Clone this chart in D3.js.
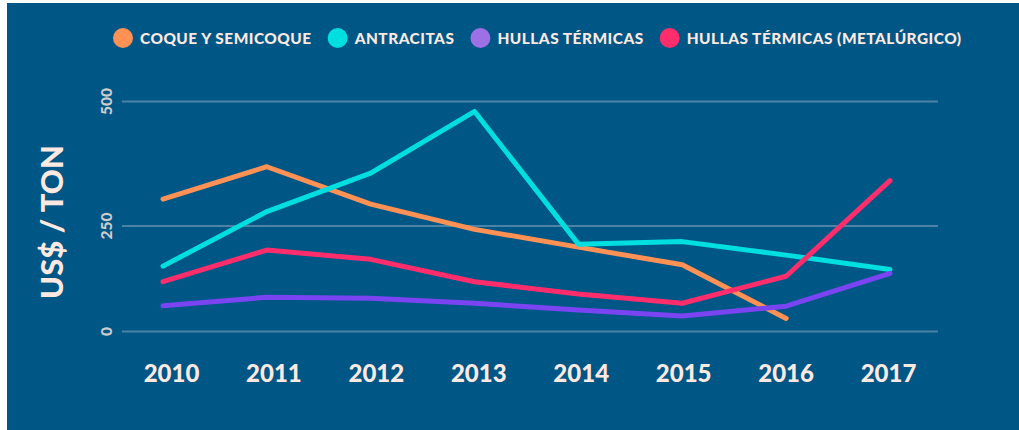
<!DOCTYPE html>
<html>
<head>
<meta charset="utf-8">
<script src="https://cdn.jsdelivr.net/npm/d3@7/dist/d3.min.js"></script>
<style>
  html, body { margin: 0; padding: 0; background: #ffffff; }
  svg { display: block; }
  text { font-family: Lato, "Open Sans", sans-serif; font-weight: 900; }
</style>
</head>
<body>
<svg id="chart" width="1019" height="430"></svg>
<script>
// Years on the x axis
const years = ["2010", "2011", "2012", "2013", "2014", "2015", "2016", "2017"];

// Prices in US$ per ton
const coque       = [304, 369, 294, 242, 200, 158, 31, null];
const antracitas  = [155, 279, 356, 480, 207, 213, 181, 147];
const hullas      = [61, 81, 79, 67, 51, 37, 60, 138];
const metalurgico = [118, 193, 171, 118, 89, 67, 131, 341];

// Series names and colours
const seriesNames   = ["COQUE Y SEMICOQUE", "ANTRACITAS", "HULLAS TÉRMICAS", "HULLAS TÉRMICAS (METALÚRGICO)"];
const seriesValues  = [coque, antracitas, hullas, metalurgico];
const lineColors    = ["#ff9155", "#00dfdf", "#7a44f2", "#ff2d6b"];
const legendColors  = ["#ff9155", "#00dfdf", "#9d70e6", "#ff2d6b"];

// Y axis ticks
const yTicks = [0, 250, 500];
const yTitle = "US$ / TON";

const svg = d3.select("#chart");
const W = 1019, H = 430;

// Panel background
svg.append("rect")
  .attr("x", 7).attr("y", 3)
  .attr("width", W - 7).attr("height", H - 3)
  .attr("fill", "#005685");

const gridX0 = 122, gridX1 = 938;

// Value scale (gridlines are unevenly spaced)
const y = d3.scaleLinear()
  .domain([0, 250, 500])
  .range([331.5, 226, 101.5]);

// Line positions and label positions
const x = d3.scalePoint().domain(years).range([163, 890]);
const xLabels = d3.scalePoint().domain(years).range([171, 888]);

// Gridlines
svg.append("g")
  .selectAll("line")
  .data(yTicks)
  .join("line")
  .attr("x1", gridX0).attr("x2", gridX1)
  .attr("y1", d => y(d)).attr("y2", d => y(d))
  .attr("stroke", "#4b83a6")
  .attr("stroke-width", 2);

// Y tick labels (rotated)
svg.append("g")
  .selectAll("text")
  .data(yTicks)
  .join("text")
  .attr("transform", d => `translate(111.5,${y(d)}) rotate(-90)`)
  .attr("text-anchor", "middle")
  .attr("font-size", 15.5)
  .attr("fill", "#cfcccc")
  .text(d => d);

// Y axis title
svg.append("text")
  .attr("transform", "translate(63,222) rotate(-90)")
  .attr("text-anchor", "middle")
  .attr("font-size", 31)
  .attr("fill", "#fde9e1")
  .text(yTitle);

// X axis labels
const xAxis = d3.axisBottom(xLabels).tickSize(0).tickPadding(0);
const gx = svg.append("g").attr("transform", "translate(0,382)").call(xAxis);
gx.select(".domain").remove();
gx.selectAll("text")
  .attr("dy", 0)
  .attr("font-size", 24)
  .attr("font-family", "Lato, 'Open Sans', sans-serif")
  .attr("font-weight", 900)
  .attr("fill", "#fde9e1");

// Lines
const line = d3.line()
  .defined(d => d != null)
  .x((d, i) => x(years[i]))
  .y(d => y(d));

svg.append("g")
  .selectAll("path")
  .data(seriesValues)
  .join("path")
  .attr("d", d => line(d))
  .attr("fill", "none")
  .attr("stroke", (d, i) => lineColors[i])
  .attr("stroke-width", 5)
  .attr("stroke-linecap", "round")
  .attr("stroke-linejoin", "round");

// Legend
const legend = svg.append("g").attr("transform", "translate(0,38)");
let lx = 113;
seriesNames.forEach((name, i) => {
  legend.append("circle")
    .attr("cx", lx + 10).attr("cy", 0).attr("r", 10)
    .attr("fill", legendColors[i]);
  const t = legend.append("text")
    .attr("x", lx + 27).attr("y", 0)
    .attr("dy", "0.36em")
    .attr("font-size", 15.4)
    .attr("letter-spacing", 0.5)
    .attr("fill", "#fde9e1")
    .text(name);
  lx += 27 + t.node().getComputedTextLength() + 16;
});
</script>
</body>
</html>
